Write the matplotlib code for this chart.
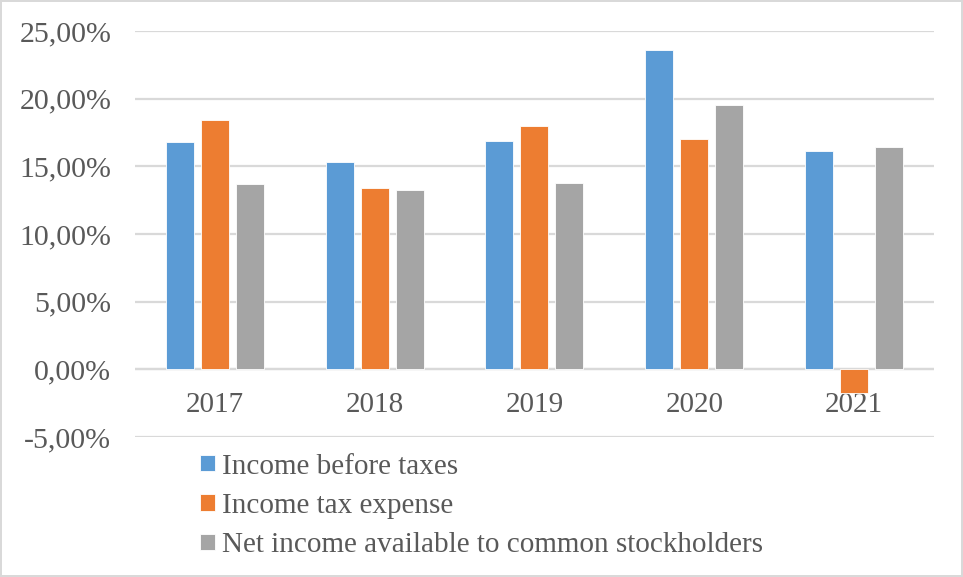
import matplotlib.pyplot as plt
import numpy as np

years = ["2017", "2018", "2019", "2020", "2021"]
income_before_taxes = [16.79, 15.35, 16.88, 23.58, 16.14]
income_tax_expense = [18.40, 13.41, 17.97, 17.04, -1.74]
net_income_common = [13.69, 13.28, 13.79, 19.57, 16.44]

series_names = [
    "Income before taxes",
    "Income tax expense",
    "Net income available to common stockholders",
]
colors = ["#5B9BD5", "#ED7D31", "#A5A5A5"]
text_color = "#595959"
font = "Liberation Serif"

fig = plt.figure(figsize=(9.63, 5.77), dpi=100)
fig.patch.set_edgecolor("#d9d9d9")
fig.patch.set_linewidth(1.5)
ax = fig.add_axes([0.140, 0.2426, 0.830, 0.7035])

x = np.arange(len(years))
width = 0.175
step = 0.219
for i, (vals, name, col) in enumerate(
        zip([income_before_taxes, income_tax_expense, net_income_common],
            series_names, colors)):
    ax.bar(x + (i - 1) * step, vals, width, color=col, label=name,
           edgecolor="white", linewidth=0.6, zorder=3)

ax.set_xlim(-0.5, len(years) - 0.5)
ax.set_ylim(-5, 25)
ticks = np.arange(-5, 26, 5)
ax.set_yticks(ticks)
ax.set_yticklabels([f"{t:.2f}%".replace(".", ",") for t in ticks],
                   fontfamily=font, fontsize=21.5, color=text_color)
ax.grid(axis="y", color="#d9d9d9", linewidth=1.6, zorder=0)
ax.axhline(0, color="#d9d9d9", linewidth=1.6, zorder=2)

for side in ["top", "right", "left"]:
    ax.spines[side].set_visible(False)
ax.spines["bottom"].set_position(("data", 0))
ax.spines["bottom"].set_visible(False)
ax.set_xticks(x)
ax.set_xticklabels(years, fontfamily=font, fontsize=21, color=text_color)
ax.tick_params(axis="x", length=0, pad=16)
ax.tick_params(axis="y", length=0, pad=17)

fig.legend(loc="upper left", bbox_to_anchor=(0.208, 0.214),
           frameon=False, prop={"family": font, "size": 21},
           labelcolor=text_color, handlelength=0.5, handleheight=0.5,
           handletextpad=0.25, labelspacing=0.46, borderpad=0,
           borderaxespad=0)

fig.savefig("out.png", dpi=100)
